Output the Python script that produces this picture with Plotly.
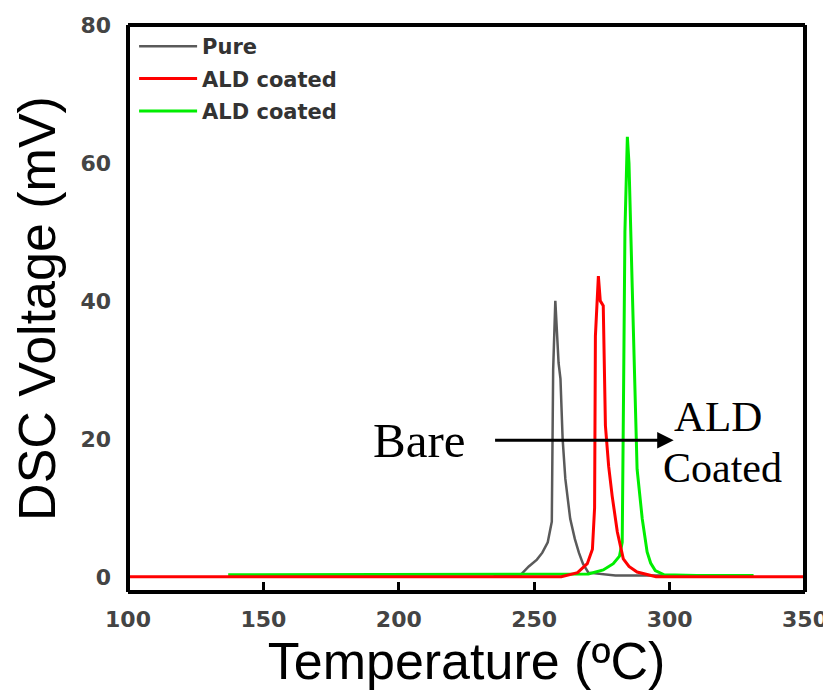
import plotly.graph_objects as go

# Data
pure_T = [235, 245, 248, 251, 253, 255, 256.5, 257.0, 257.8, 258.3, 259, 259.7, 260.5, 261.5, 263.3, 265, 266.5, 268, 270, 280, 300]
pure_V = [0.1, 0.3, 1.5, 2.5, 3.5, 5.0, 8, 30, 40, 36, 31, 28.7, 20, 14.2, 8.4, 5.5, 3.5, 1.9, 0.6, 0.2, 0.2]

red_T = [100, 260, 266, 269.6, 271.5, 272.3, 272.6, 273.2, 273.7, 274.4, 275.5, 276.3, 277.5, 278.8, 280.7, 282.9, 285, 288, 295, 350]
red_V = [0.0, 0.0, 0.6, 1.9, 4, 10, 34.9, 40, 43.6, 40, 39.3, 21.9, 16, 11.7, 6.5, 2.6, 1.5, 0.7, 0.0, 0.0]

green_T = [137, 205, 235, 270, 275.5, 279.2, 281.5, 282.5, 283, 283.5, 284.4, 285, 286.2, 287.3, 288, 289.9, 291.7, 293, 294.7, 298, 310, 331]
green_V = [0.3, 0.4, 0.4, 0.4, 1.0, 1.9, 3.0, 5, 26.8, 50, 63.8, 60, 42, 27.7, 15.6, 8.4, 3.6, 2, 0.9, 0.3, 0.2, 0.2]

series_names = ["Pure", "ALD coated", "ALD coated"]
x_ticks = [100, 150, 200, 250, 300, 350]
y_ticks = [0, 20, 40, 60, 80]

fig = go.Figure()
fig.add_trace(go.Scatter(x=pure_T, y=pure_V, mode="lines", name=series_names[0],
                         legendgroup="a", legendrank=1,
                         line=dict(color="#5a5a5a", width=2.5)))
fig.add_trace(go.Scatter(x=green_T, y=green_V, mode="lines", name=series_names[2],
                         legendgroup="c", legendrank=3,
                         line=dict(color="#00ee00", width=3)))
fig.add_trace(go.Scatter(x=red_T, y=red_V, mode="lines", name=series_names[1],
                         legendgroup="b", legendrank=2,
                         line=dict(color="#ff0000", width=3)))

tick_font = dict(family="DejaVu Sans", size=22, color="#444", weight="bold")
title_font = dict(family="Liberation Sans", size=52, color="black")

# page has an 8px body margin, so the figure is offset by 8px
fig.update_layout(
    width=823, height=683,
    margin=dict(l=120, r=26, t=17, b=99),
    paper_bgcolor="white", plot_bgcolor="white",
    showlegend=True,
    legend=dict(x=0.009, y=0.998, xanchor="left", yanchor="top",
                bgcolor="rgba(0,0,0,0)", tracegroupgap=2, traceorder="grouped",
                font=dict(family="DejaVu Sans", size=21, color="#333", weight="bold"),
                itemwidth=58),
    xaxis=dict(range=[100, 350], tickvals=x_ticks, ticks="inside", ticklen=10,
               tickwidth=3, tickcolor="black", ticklabelstandoff=12,
               ticklabeloverflow="allow",
               showgrid=False, zeroline=False, showline=False, automargin=False,
               tickfont=tick_font,
               title=dict(text="Temperature (ºC)", font=title_font, standoff=10)),
    yaxis=dict(range=[-2.2, 80], tickvals=y_ticks, ticks="", showgrid=False, zeroline=False,
               showline=False, automargin=False, ticklabelstandoff=16,
               ticklabeloverflow="allow",
               tickfont=tick_font,
               title=dict(text="DSC Voltage (mV)", font=title_font, standoff=12)),
    font=dict(family="Liberation Sans"),
)

# Frame
for x0, x1, y0, y1 in [(0, 0, 0, 1), (0, 1, 1, 1), (0, 1, 0, 0), (1, 1, 0, 1)]:
    fig.add_shape(type="line", xref="paper", yref="paper", x0=x0, x1=x1, y0=y0, y1=y1,
                  line=dict(color="black", width=4))

# Arrow and text annotations
fig.add_annotation(x=301.5, y=19.8, xref="x", yref="y", ax=235.0, ay=19.8, axref="x", ayref="y",
                   text="", showarrow=True, arrowhead=2, arrowsize=1.1, arrowwidth=3,
                   arrowcolor="black", standoff=0, startstandoff=0)
fig.add_annotation(x=207.5, y=19.8, xref="x", yref="y", text="Bare", showarrow=False,
                   font=dict(family="Liberation Serif", size=49, color="black"))
fig.add_annotation(x=317.9, y=23.2, xref="x", yref="y", text="ALD", showarrow=False,
                   font=dict(family="Liberation Serif", size=43, color="black"))
fig.add_annotation(x=319.7, y=15.8, xref="x", yref="y", text="Coated", showarrow=False,
                   font=dict(family="Liberation Serif", size=42, color="black"))

fig.write_html("out.html")
